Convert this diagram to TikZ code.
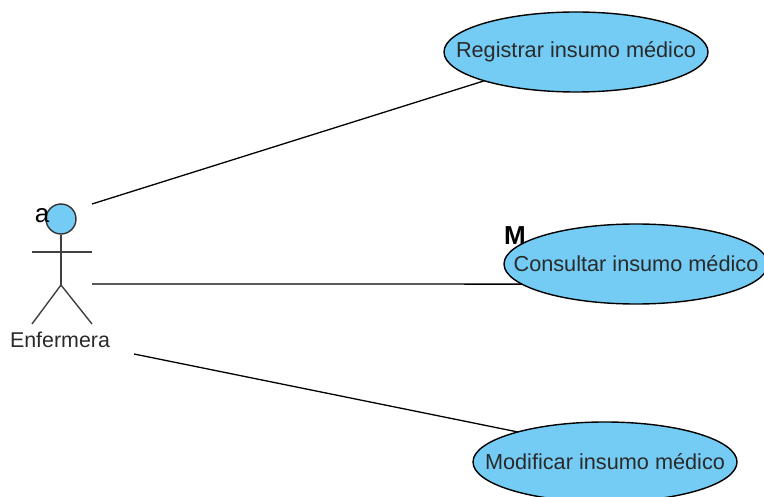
\documentclass[tikz,border=0pt]{standalone}
\usepackage{fontspec}
\setmainfont{Liberation Sans}
\usetikzlibrary{shapes.geometric}
\definecolor{ucfill}{HTML}{74CCF4}
\definecolor{inktext}{HTML}{2A2A2A}
\newcommand{\uclabel}[1]{\makebox[0pt]{#1}}
\tikzset{
  px/.style={x=1pt,y=-1pt},
  usecase/.style={ellipse,draw=black,line width=1.4pt,fill=ucfill,minimum width=264pt,minimum height=80pt,inner sep=0pt,outer sep=0pt,text=inktext,font=\fontsize{21.7}{24}\selectfont},
  assoc/.style={draw=black,line width=1.3pt},
  stick/.style={draw=black!75,line width=1.4pt},
  marker/.style={inner sep=0pt,text=black}
}
\begin{document}
\begin{tikzpicture}[px]
\useasboundingbox (0,0) rectangle (764,497);
\clip (0,0) rectangle (764,497);
\coordinate (a1) at (92,204);
\coordinate (a2) at (92,284);
\coordinate (a3) at (134,354);
\node[usecase] (reg) at (576,52) {\uclabel{Registrar insumo médico}};
\node[usecase] (cons) at (636,264) {\uclabel{Consultar insumo médico}};
\node[usecase] (mod) at (605,462) {\uclabel{Modificar insumo médico}};
\draw[assoc] (a1) -- (reg);
\draw[assoc] (a2) -- (cons.190);
\draw[assoc] (a3) -- (mod.161);
% actor
\node[circle,draw=black!80,line width=1.4pt,fill=ucfill,minimum size=30pt,inner sep=0pt] (head) at (61,219) {};
\coordinate (hip) at (61,285);
\coordinate (armL) at (32,252);
\coordinate (armR) at (92,252);
\coordinate (legL) at (32,324);
\coordinate (legR) at (92,324);
\draw[stick] (head) -- (hip);
\draw[stick] (armL) -- (armR);
\draw[stick] (legL) -- (hip) -- (legR);
\node[inner sep=0pt,text=inktext,font=\fontsize{21.4}{24}\selectfont] (actorlabel) at (60,340) {Enfermera};
\node[marker,font=\fontsize{26}{28}\selectfont] (marka) at (42,216) {a};
\node[marker,font=\bfseries\fontsize{26}{28}\selectfont] (markm) at (515,236) {M};
\end{tikzpicture}
\end{document}
